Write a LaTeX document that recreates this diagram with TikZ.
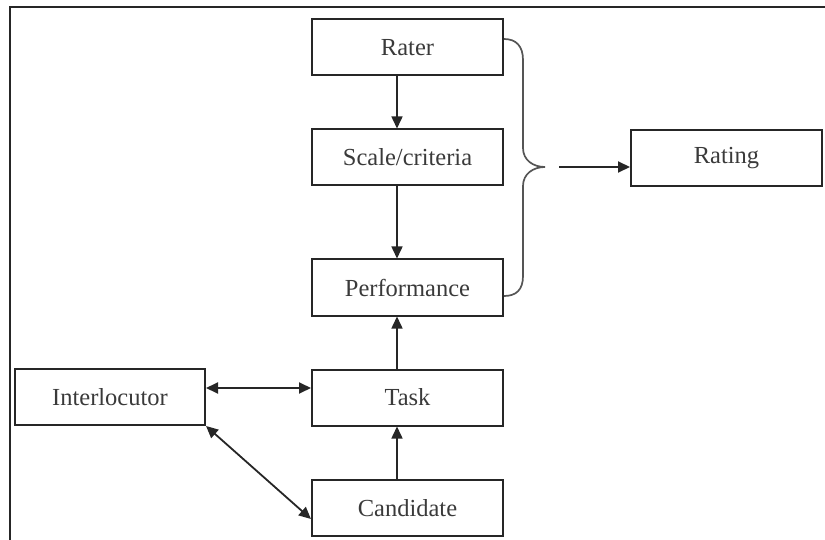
\documentclass[tikz,border=0pt]{standalone}
\usepackage{fontspec}
\setmainfont{Liberation Serif}
\usetikzlibrary{arrows.meta}
\definecolor{txt}{HTML}{3A3A3A}
\definecolor{brc}{HTML}{555555}
\begin{document}
\begin{tikzpicture}[x=1bp,y=-1bp,
  box/.style={draw=black!85,line width=2bp,minimum width=191bp,minimum height=56bp,inner sep=0pt,
    font=\fontsize{24.5bp}{29bp}\selectfont,text=txt},
  arr/.style={draw=black!85,line width=1.5bp,-{Triangle[length=12bp,width=11bp]}},
  darr/.style={draw=black!85,line width=1.8bp,{Triangle[length=12bp,width=11bp]}-{Triangle[length=12bp,width=11bp]}},
  bracestyle/.style={draw=brc,line width=1.7bp}]
\useasboundingbox (0,0) rectangle (825,540);
\draw[line width=2bp,black!85] (9.5,545) -- (9.5,7) -- (830,7);
\node[box] (rater) at (407.5,47.5) {Rater};
\node[box] (scale) at (407.5,157.5) {Scale/criteria};
\node[box] (perf) at (407.5,287.5) {Performance};
\node[box] (task) at (407.5,397.5) {Task};
\node[box,minimum width=190bp] (inter) at (110,397) {Interlocutor};
\node[box] (cand) at (407.5,508) {Candidate};
\node[box] (rating) at (726.5,158) {Rating};
% vertical arrows (offset left of centre)
\draw[arr] ([xshift=-10.5bp]rater.south) -- ([xshift=-10.5bp]scale.north);
\draw[arr] ([xshift=-10.5bp]scale.south) -- ([xshift=-10.5bp]perf.north);
\draw[arr] ([xshift=-10.5bp]task.north) -- ([xshift=-10.5bp]perf.south);
\draw[arr] ([xshift=-10.5bp]cand.north) -- ([xshift=-10.5bp]task.south);
% interlocutor links
\draw[darr] ([yshift=9bp]inter.east) -- ([yshift=9.5bp]task.west);
\draw[darr] (inter.south east) -- ([yshift=-11bp]cand.west);
% brace
\coordinate (bt) at ([yshift=8.5bp]rater.east);
\coordinate (bb) at ([yshift=-8.5bp]perf.east);
\coordinate (tip) at (545,167);
\draw[bracestyle] (bt) .. controls (516,39) and (523,46) .. (523,60) -- (523,148)
  .. controls (523,160) and (533,167) .. (tip)
  .. controls (533,167) and (523,174) .. (523,186) -- (523,276)
  .. controls (523,290) and (516,296) .. (bb);
\coordinate (bo) at (559,167);
\draw[arr,line width=2bp] (bo) -- (rating.west |- bo);
\end{tikzpicture}
\end{document}
